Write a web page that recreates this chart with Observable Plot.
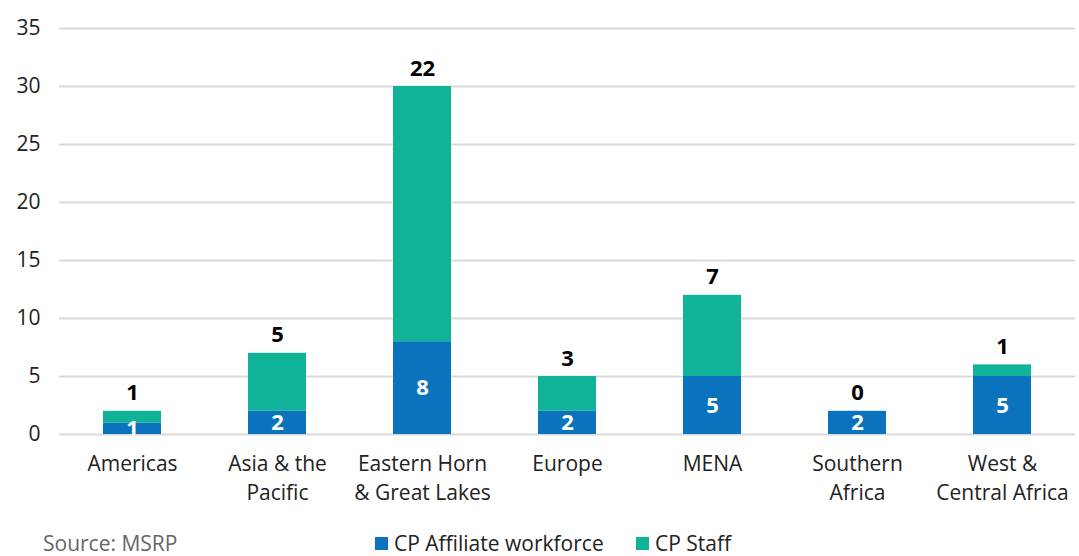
<!DOCTYPE html>
<html><head><meta charset="utf-8">
<script src="https://cdn.jsdelivr.net/npm/d3@7"></script>
<script src="https://cdn.jsdelivr.net/npm/@observablehq/plot@0.6"></script>
<style>
body{margin:0;background:#fff;font-family:"Open Sans",sans-serif;width:1079px;height:556px;overflow:hidden;position:relative}
#foot{position:absolute;left:0;top:531px;width:1079px;height:25px;font-size:21px;line-height:25px;color:#222}
#src{position:absolute;left:43px;top:0;color:#666}
.lg{position:absolute;top:0;display:flex;align-items:center;white-space:nowrap}
.sw{width:13px;height:13px;display:inline-block;margin-right:6px}
</style></head><body>
<div id="chart"></div>
<div id="foot"><span id="src">Source: MSRP</span>
<span class="lg" style="left:375px"><span class="sw" style="background:#0b72bd"></span>CP Affiliate workforce</span>
<span class="lg" style="left:636px"><span class="sw" style="background:#10b398"></span>CP Staff</span></div>
<script>
const categories = ["Americas","Asia & the\nPacific","Eastern Horn\n& Great Lakes","Europe","MENA","Southern\nAfrica","West &\nCentral Africa"];
const affiliate = [1,2,8,2,5,2,5];
const staff = [1,5,22,3,7,0,1];
const yTicks = [0,5,10,15,20,25,30,35];
const series = ["CP Affiliate workforce","CP Staff"];
const colors = ["#0b72bd","#10b398"];

const rows = [];
categories.forEach((c,i)=>{
  rows.push({cat:c, s:series[0], v:affiliate[i]});
  rows.push({cat:c, s:series[1], v:staff[i]});
});
const blueLbl = categories.map((c,i)=>({cat:c, y:affiliate[i]/2, t:String(affiliate[i])}));
const greenLbl = categories.map((c,i)=>({cat:c, y:affiliate[i]+staff[i], t:String(staff[i])}));

const chart = Plot.plot({
  width:1079, height:530,
  marginLeft:59, marginRight:4, marginTop:28, marginBottom:96,
  style:{fontFamily:"'Open Sans', sans-serif", fontSize:"21px", color:"#222", background:"#fff"},
  x:{domain:categories, paddingInner:0.6, paddingOuter:0.3, label:null},
  y:{domain:[0,35], label:null},
  color:{domain:series, range:colors},
  marks:[
    Plot.gridY(yTicks,{stroke:"#d9d9d9", strokeOpacity:1, strokeWidth:2}),
    Plot.axisY(yTicks,{tickSize:0, tickPadding:19, fontSize:21, fill:"#222", label:null}),
    Plot.axisX({tickSize:0, tickPadding:16, fontSize:21, lineHeight:1.38, fill:"#222", label:null}),
    Plot.barY(rows, Plot.stackY({x:"cat", y:"v", fill:"s", order:series})),
    Plot.text(blueLbl,{x:"cat", y:"y", text:"t", fill:"white", fontWeight:"bold", fontSize:22}),
    Plot.text(greenLbl,{x:"cat", y:"y", text:"t", fill:"#000", fontWeight:"bold", fontSize:22, dy:-18})
  ]
});
document.getElementById("chart").append(chart);
</script>
</body></html>
